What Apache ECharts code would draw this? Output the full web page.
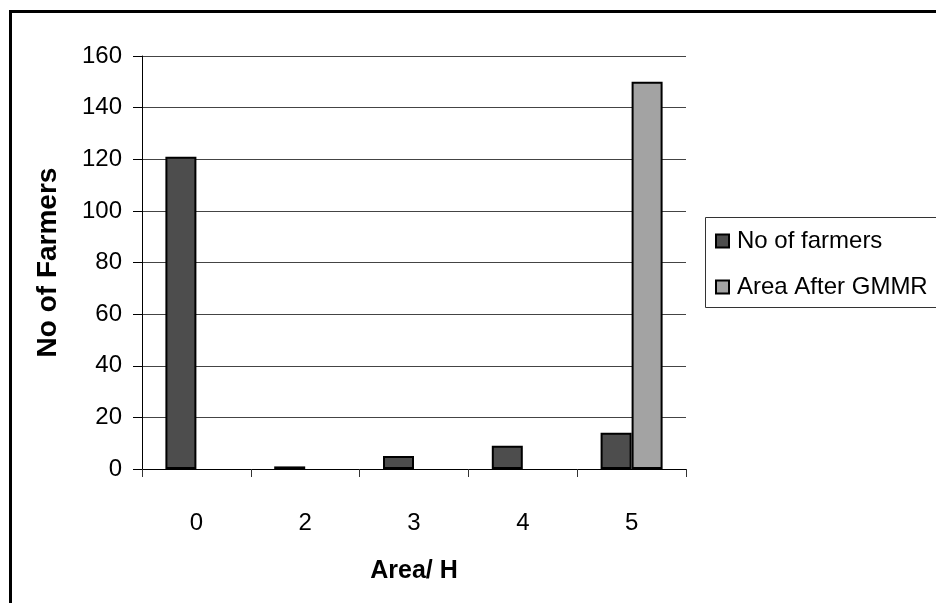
<!DOCTYPE html>
<html>
<head>
<meta charset="utf-8">
<title>No of Farmers by Area</title>
<script src="https://cdn.jsdelivr.net/npm/echarts@6/dist/echarts.min.js"></script>
<style>
  html, body { margin: 0; padding: 0; background: #fff; }
  #chart { width: 936px; height: 603px; }
</style>
</head>
<body>
<div id="chart"></div>
<script>
// data
var areaCats = ['0', '2', '3', '4', '5'];
var farmers = [121, 1, 5, 9, 14];
var afterGmmr = ['-', '-', '-', '-', 150];
var yTicks = { min: 0, max: 160, interval: 20 };

var font = "'Liberation Sans', Arial, sans-serif";

var chart = echarts.init(document.getElementById('chart'), null, { renderer: 'canvas' });

chart.setOption({
  backgroundColor: '#fff',
  animation: false,
  graphic: [{
    // outer chart frame, cut off at right and bottom like the original
    type: 'rect',
    shape: { x: 10.5, y: 11.5, width: 1000, height: 1000 },
    style: { fill: 'none', stroke: '#000', lineWidth: 3 },
    silent: true
  }, {
    // legend frame, runs past the right edge
    type: 'rect',
    shape: { x: 705.5, y: 217.5, width: 300, height: 90 },
    style: { fill: 'none', stroke: '#333', lineWidth: 1 },
    silent: true
  }],
  grid: { left: 142, top: 56, right: 250, bottom: 134 },
  legend: {
    orient: 'vertical',
    left: 705,
    top: 217,
    padding: [12, 10, 9, 10],
    itemGap: 22,
    itemWidth: 13,
    itemHeight: 13,
    icon: 'rect',
    textStyle: { fontFamily: font, fontSize: 24, color: '#000', padding: [0, 0, 0, 3] },
    data: ['No of farmers', 'Area After GMMR']
  },
  xAxis: {
    type: 'category',
    data: areaCats,
    name: 'Area/ H',
    nameLocation: 'middle',
    nameGap: 90,
    nameTextStyle: { fontFamily: font, fontSize: 25, fontWeight: 'bold', color: '#000' },
    axisLine: { lineStyle: { color: '#000', width: 1 } },
    axisTick: { show: true, length: 8, lineStyle: { color: '#333' } },
    axisLabel: { margin: 42, fontFamily: font, fontSize: 24, color: '#000' }
  },
  yAxis: {
    type: 'value',
    min: yTicks.min,
    max: yTicks.max,
    interval: yTicks.interval,
    name: 'No of Farmers',
    nameLocation: 'middle',
    nameGap: 80,
    nameTextStyle: { fontFamily: font, fontSize: 28, fontWeight: 'bold', color: '#000' },
    axisLine: { show: true, lineStyle: { color: '#000', width: 1 } },
    axisTick: { show: true, length: 9, lineStyle: { color: '#000' } },
    axisLabel: { margin: 20, fontFamily: font, fontSize: 24, color: '#000' },
    splitLine: { show: true, lineStyle: { color: '#444', width: 1 } }
  },
  series: [
    {
      name: 'No of farmers',
      type: 'bar',
      data: farmers,
      barWidth: 31,
      barGap: '0%',
      itemStyle: { color: '#4d4d4d', borderColor: '#000', borderWidth: 2 }
    },
    {
      name: 'Area After GMMR',
      type: 'bar',
      data: afterGmmr,
      barWidth: 31,
      barGap: '0%',
      itemStyle: { color: '#a3a3a3', borderColor: '#000', borderWidth: 2 }
    }
  ]
});
</script>
</body>
</html>
